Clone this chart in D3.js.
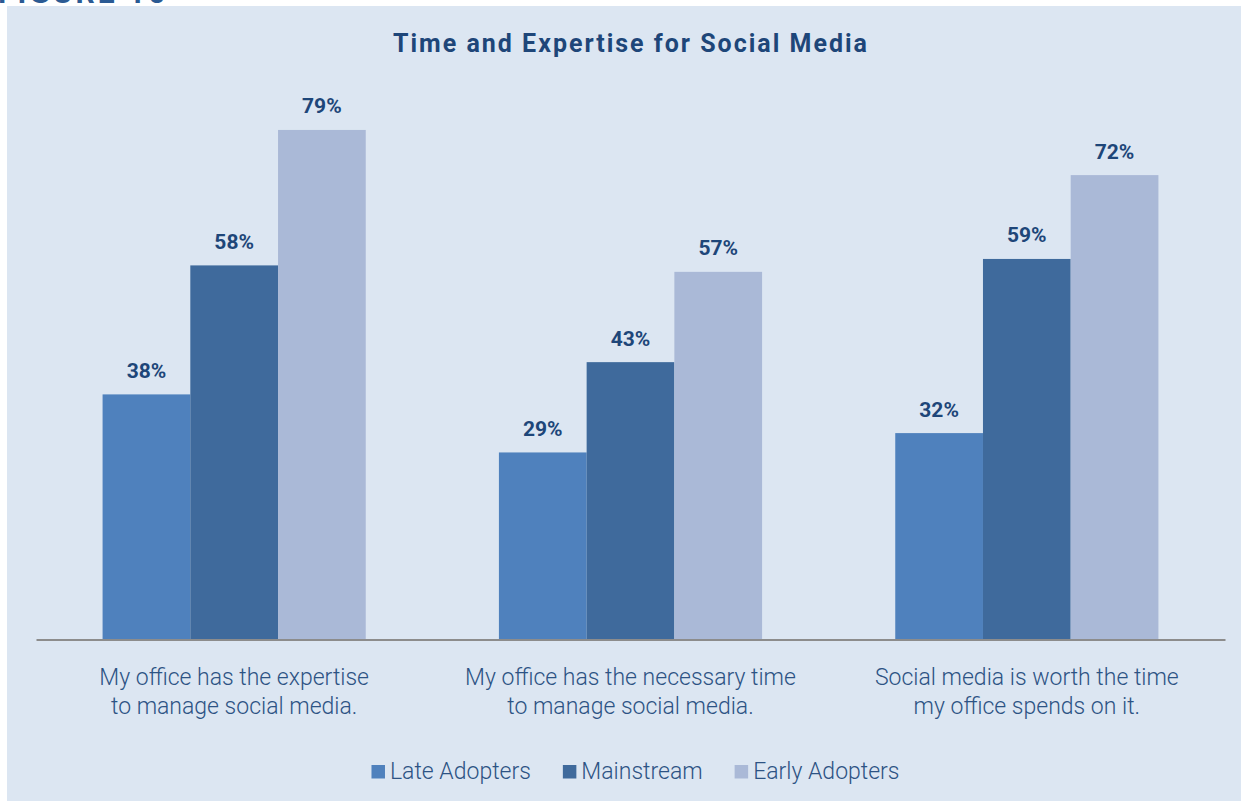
<!DOCTYPE html>
<html>
<head>
<meta charset="utf-8">
<script src="https://cdn.jsdelivr.net/npm/d3@7"></script>
<style>
  html, body { margin: 0; padding: 0; background: #ffffff; }
  svg { display: block; }
</style>
</head>
<body>
<svg id="chart" width="1241" height="801"></svg>
<script>
const categories = [
  ["My office has the expertise", "to manage social media."],
  ["My office has the necessary time", "to manage social media."],
  ["Social media is worth the time", "my office spends on it."]
];
const seriesNames = ["Late Adopters", "Mainstream", "Early Adopters"];
const lateAdopters = [38, 29, 32];
const mainstream = [58, 43, 59];
const earlyAdopters = [79, 57, 72];
const seriesValues = [lateAdopters, mainstream, earlyAdopters];
const colors = ["#4f81bd", "#3f6a9c", "#aab9d7"];
const titleText = "Time and Expertise for Social Media";

const svg = d3.select("#chart");
const textDark = "#1e4679";
const textCat = "#2d5384";

// panel
svg.append("rect").attr("x", 7).attr("y", 6).attr("width", 1240).attr("height", 800).attr("fill", "#dce6f2");

// cut-off figure heading
svg.append("text").attr("x", -2).attr("y", 3)
  .attr("font-family", "Roboto, sans-serif").attr("font-weight", 700).attr("font-size", 30)
  .attr("letter-spacing", 3).attr("fill", "#2b5a93").text("FIGURE 10");

// title
const title = svg.append("text").attr("x", 630).attr("y", 52).attr("text-anchor", "middle")
  .attr("font-family", "Roboto, sans-serif").attr("font-weight", 700).attr("font-size", 25)
  .attr("fill", textDark).text(titleText);
title.attr("textLength", 474).attr("lengthAdjust", "spacing");

const x0 = d3.scaleBand().domain(d3.range(categories.length)).range([36, 1225])
  .paddingInner(0.336).paddingOuter(0.168);
const x1 = d3.scaleBand().domain(d3.range(seriesNames.length)).range([0, x0.bandwidth()]);
const y = d3.scaleLinear().domain([0, 100]).range([639.5, -5.5]);

const groups = svg.append("g").selectAll("g").data(categories).join("g")
  .attr("transform", (d, i) => `translate(${x0(i)},0)`);

groups.each(function(cat, ci) {
  const g = d3.select(this);
  const vals = seriesValues.map(s => s[ci]);
  g.selectAll("rect").data(vals).join("rect")
    .attr("x", (d, si) => x1(si))
    .attr("y", d => y(d))
    .attr("width", x1.bandwidth())
    .attr("height", d => y(0) - y(d))
    .attr("fill", (d, si) => colors[si]);
  g.selectAll("text.val").data(vals).join("text").attr("class", "val")
    .attr("x", (d, si) => x1(si) + x1.bandwidth() / 2)
    .attr("y", d => y(d) - 16.5)
    .attr("text-anchor", "middle")
    .attr("font-family", "Roboto, sans-serif").attr("font-weight", 700).attr("font-size", 21)
    .attr("fill", textDark)
    .text(d => d + "%");
});

// axis baseline
const axis = d3.axisBottom(x0).tickSize(0).tickFormat("");
const axG = svg.append("g").attr("transform", "translate(0,639.5)").call(axis);
axG.select(".domain").attr("stroke", "#8c8c8c").attr("stroke-width", 2);

// category labels
categories.forEach((lines, ci) => {
  const cx = x0(ci) + x0.bandwidth() / 2;
  const t = svg.append("text").attr("text-anchor", "middle")
    .attr("font-family", "Roboto, sans-serif").attr("font-weight", 300).attr("font-size", 23)
    .attr("fill", textCat);
  lines.forEach((ln, li) => {
    t.append("tspan").attr("x", cx).attr("y", 685 + li * 29).text(ln);
  });
});

// legend
const leg = svg.append("g");
const items = leg.selectAll("g").data(seriesNames).join("g");
items.append("rect").attr("width", 13.5).attr("height", 13.5).attr("y", 765)
  .attr("fill", (d, i) => colors[i]);
items.append("text").attr("x", 18.5).attr("y", 779)
  .attr("font-family", "Roboto, sans-serif").attr("font-weight", 300).attr("font-size", 23)
  .attr("fill", textCat).text(d => d);
let cursor = 0;
const widths = [];
items.each(function() {
  const w = d3.select(this).select("text").node().getComputedTextLength() + 18.5;
  widths.push(w);
});
const total = d3.sum(widths) + 32 * (widths.length - 1);
cursor = 635.5 - total / 2;
items.each(function(d, i) {
  d3.select(this).attr("transform", `translate(${cursor},0)`);
  cursor += widths[i] + 32;
});
</script>
</body>
</html>
